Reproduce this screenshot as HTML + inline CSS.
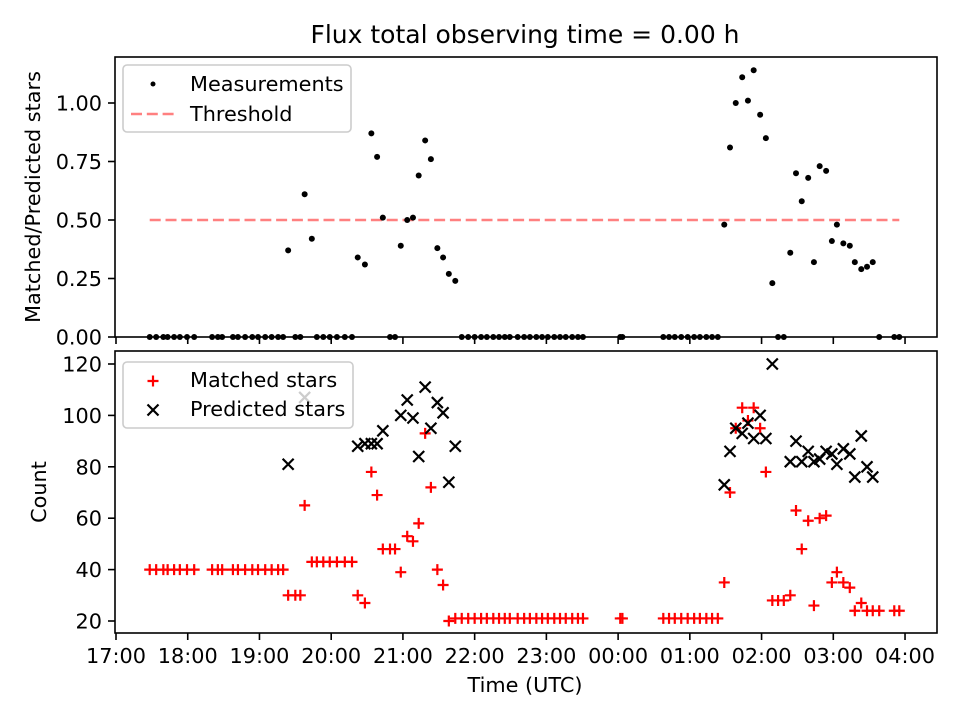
<!DOCTYPE html>
<html><head><meta charset="utf-8"><style>
body{margin:0;background:#fff;}
svg text{font-family:"DejaVu Sans","Liberation Sans",sans-serif;fill:#000;}
</style></head><body>
<svg id="chart" width="960" height="720" xmlns="http://www.w3.org/2000/svg">
<rect width="960" height="720" fill="#fff"/>
<text x="525" y="43" font-size="25" text-anchor="middle">Flux total observing time = 0.00 h</text>
<g id="top-panel"></g><g id="bottom-panel"></g>
<text x="525" y="692" font-size="20.8" text-anchor="middle">Time (UTC)</text>
<text transform="translate(40,197) rotate(-90)" font-size="20.8" text-anchor="middle">Matched/Predicted stars</text>
<text transform="translate(46,492) rotate(-90)" font-size="20.8" text-anchor="middle">Count</text>
</svg>
<script>
const times=[0.47,0.56,0.66,0.72,0.81,0.89,0.99,1.09,1.34,1.42,1.48,1.63,1.70,1.80,1.90,1.98,2.08,2.17,2.26,2.33,
2.40,2.50,2.57,2.63,2.73,2.80,2.89,2.98,3.08,3.19,3.29,3.37,3.47,3.56,3.64,3.72,3.82,3.89,3.97,4.06,4.14,4.22,4.31,4.39,4.48,4.56,4.64,4.73,
4.82,4.91,5.00,5.09,5.17,5.26,5.34,5.42,5.49,5.60,5.69,5.77,5.86,5.94,6.02,6.11,6.19,6.27,6.36,6.44,6.51,7.03,7.06,
7.63,7.71,7.79,7.88,7.97,8.06,8.14,8.23,8.31,8.39,8.48,8.56,8.64,8.73,8.81,8.89,8.98,9.06,9.15,9.23,9.31,
9.40,9.48,9.56,9.65,9.73,9.81,9.90,9.98,10.05,10.14,10.23,10.30,10.39,10.47,10.55,10.64,10.85,10.92];
const ratios=[0,0,0,0,0,0,0,0,0,0,0,0,0,0,0,0,0,0,0,0,
0.37,0,0,0.61,0.42,0,0,0,0,0,0,0.34,0.31,0.87,0.77,0.51,0,0,0.39,0.50,0.51,0.69,0.84,0.76,0.38,0.34,0.27,0.24,
0,0,0,0,0,0,0,0,0,0,0,0,0,0,0,0,0,0,0,0,0,0,0,
0,0,0,0,0,0,0,0,0,0,0.48,0.81,1.00,1.11,1.01,1.14,0.95,0.85,0.23,0,0,
0.36,0.70,0.58,0.68,0.32,0.73,0.71,0.41,0.48,0.40,0.39,0.32,0.29,0.30,0.32,0,0,0];
const matched=[40,40,40,40,40,40,40,40,40,40,40,40,40,40,40,40,40,40,40,40,
30,30,30,65,43,43,43,43,43,43,43,30,27,78,69,48,48,48,39,53,51,58,93,72,40,34,20,21,
21,21,21,21,21,21,21,21,21,21,21,21,21,21,21,21,21,21,21,21,21,21,21,
21,21,21,21,21,21,21,21,21,21,35,70,95,103,98,103,95,78,28,28,28,
30,63,48,59,26,60,61,35,39,35,33,24,27,24,24,24,24,24];
const predicted=[null,null,null,null,null,null,null,null,null,null,null,null,null,null,null,null,null,null,null,null,
81,null,null,107,null,null,null,null,null,null,null,88,89,89,89,94,null,null,100,106,99,84,111,95,105,101,74,88,
null,null,null,null,null,null,null,null,null,null,null,null,null,null,null,null,null,null,null,null,null,null,null,
null,null,null,null,null,null,null,null,null,null,73,86,95,93,97,91,100,91,120,null,null,
82,90,82,86,82,83,86,85,81,87,85,76,92,80,76,null,null,null];
const xTickLabels=["17:00","18:00","19:00","20:00","21:00","22:00","23:00","00:00","01:00","02:00","03:00","04:00"];
const topTicks=[0,0.25,0.5,0.75,1.0];
const botTicks=[20,40,60,80,100,120];
const threshold=0.5;

const NS="http://www.w3.org/2000/svg";
const L=115,R=937;
const X=h=>116+h*71.73;
const yTop=v=>337-v*234;
const yBot=v=>621-(v-20)*2.57;
function mk(p,t,a){const e=document.createElementNS(NS,t);for(const k in a)e.setAttribute(k,a[k]);p.appendChild(e);return e;}
const topG=document.getElementById('top-panel'),botG=document.getElementById('bottom-panel');

function axes(g,y0,y1,name,ticks,yf,fmt){
  xTickLabels.forEach((s,i)=>{
    const t=mk(g,'line',{x1:X(i),x2:X(i),y1:y1,y2:y1+7,stroke:'#000','stroke-width':1.6});
    
    
    if(name==='bottom'){
      const tx=mk(g,'text',{x:X(i),y:y1+30,'font-size':20.8,'text-anchor':'middle'});
      tx.textContent=s;
      
      
    }
  });
  ticks.forEach(v=>{
    const y=yf(v);
    const t=mk(g,'line',{x1:L-7,x2:L,y1:y,y2:y,stroke:'#000','stroke-width':1.6});
    
    
    const tx=mk(g,'text',{x:L-13,y:y+7.5,'font-size':20.8,'text-anchor':'end'});
    tx.textContent=fmt(v);
    
    
  });
}
axes(topG,57,337,'top',topTicks,yTop,v=>v.toFixed(2));
const th=mk(topG,'line',{x1:X(times[0]),x2:X(times[times.length-1]),y1:yTop(threshold),y2:yTop(threshold),stroke:'#ff8080','stroke-width':2.4,'stroke-dasharray':'11,4.8'});


times.forEach((t,i)=>{
  const c=mk(topG,'circle',{cx:X(t),cy:yTop(ratios[i]),r:3,fill:'#000'});
  
  
});
const tf=mk(topG,'rect',{x:L,y:57,width:R-L,height:280,fill:'none',stroke:'#000','stroke-width':1.6});



axes(botG,351,633,'bottom',botTicks,yBot,v=>String(v));
times.forEach((t,i)=>{
  const x=X(t),y=yBot(matched[i]);
  const p=mk(botG,'path',{d:`M${x-5.5},${y}H${x+5.5}M${x},${y-5.5}V${y+5.5}`,stroke:'#ff0000','stroke-width':2.2,fill:'none'});
  
  
});
times.forEach((t,i)=>{
  if(predicted[i]===null)return;
  const x=X(t),y=yBot(predicted[i]),s=5.5;
  const p=mk(botG,'path',{d:`M${x-s},${y-s}L${x+s},${y+s}M${x-s},${y+s}L${x+s},${y-s}`,stroke:'#000','stroke-width':2.2,fill:'none'});
  
  
});
const bf=mk(botG,'rect',{x:L,y:351,width:R-L,height:282,fill:'none',stroke:'#000','stroke-width':1.6});



const lg1=mk(topG,'g',{});


mk(lg1,'rect',{x:123,y:65,width:228,height:67,rx:4,fill:'#fff','fill-opacity':0.8,stroke:'#ccc','stroke-width':1.6});
mk(lg1,'circle',{cx:153,cy:84,r:2.5,fill:'#000'});
const t1=mk(lg1,'text',{x:190,y:91,'font-size':20.8});t1.textContent='Measurements';
mk(lg1,'line',{x1:131,x2:174,y1:114,y2:114,stroke:'#ff8080','stroke-width':2.4,'stroke-dasharray':'11,4.8'});
const t2=mk(lg1,'text',{x:190,y:121,'font-size':20.8});t2.textContent='Threshold';

const lg2=mk(botG,'g',{});


mk(lg2,'rect',{x:123,y:362,width:230,height:66,rx:4,fill:'#fff','fill-opacity':0.8,stroke:'#ccc','stroke-width':1.6});
mk(lg2,'path',{d:'M147.5,381H158.5M153,375.5V386.5',stroke:'#ff0000','stroke-width':2.2});
const t3=mk(lg2,'text',{x:190,y:387,'font-size':20.8});t3.textContent='Matched stars';
mk(lg2,'path',{d:'M147.5,404.5L158.5,415.5M147.5,415.5L158.5,404.5',stroke:'#000','stroke-width':2.2});
const t4=mk(lg2,'text',{x:190,y:416,'font-size':20.8});t4.textContent='Predicted stars';
</script>
</body></html>
